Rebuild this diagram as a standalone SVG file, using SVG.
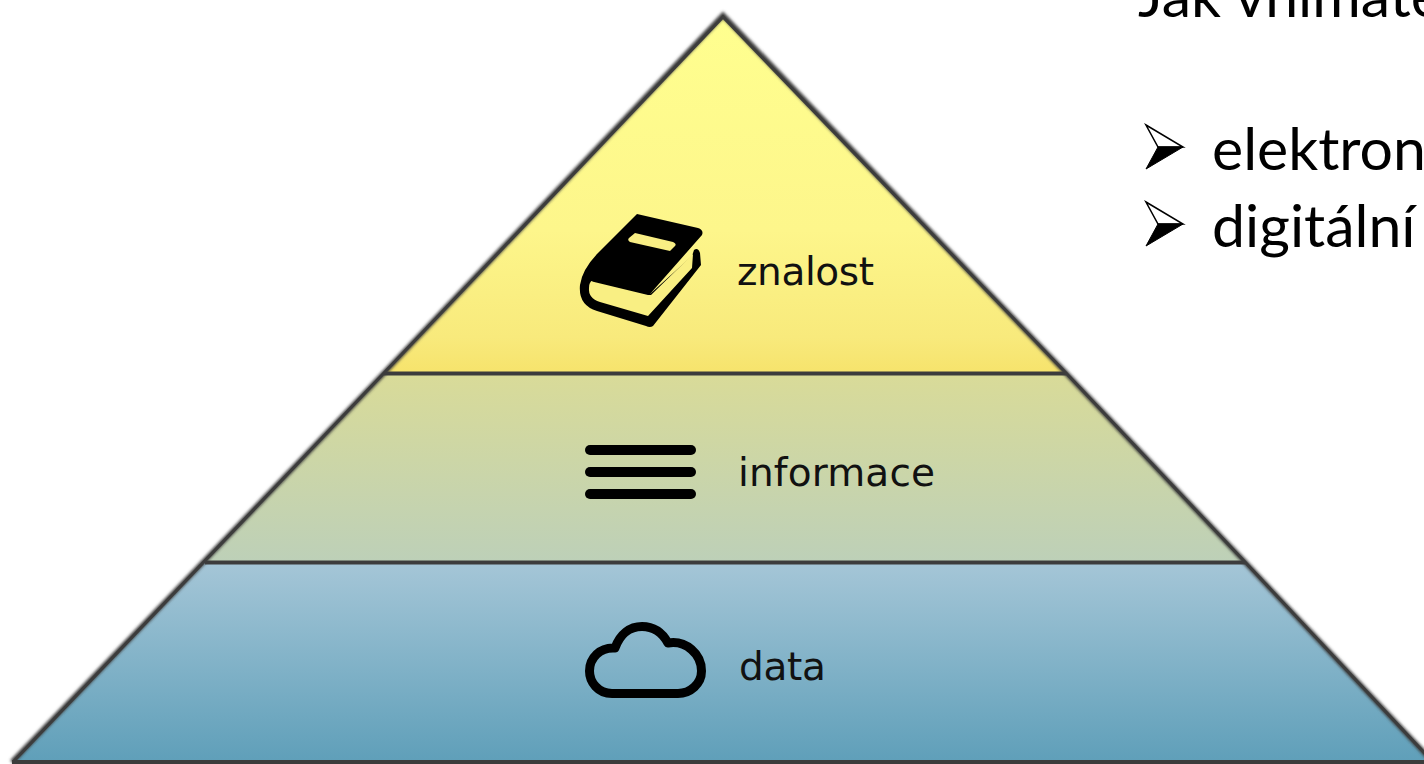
<svg xmlns="http://www.w3.org/2000/svg" width="1424" height="764" viewBox="0 0 1424 764">
<style>
.lb{font-family:"DejaVu Sans",sans-serif;font-size:39px;fill:#111}
.tx{font-family:"Lato","Liberation Sans",sans-serif;font-size:59px;fill:#000}
.edge{fill:none;stroke:#3c3c3c;stroke-linejoin:miter}
.bar{fill:#000}
</style>
<defs>
<linearGradient id="gY" x1="0" y1="0" x2="0" y2="1"><stop offset="0" stop-color="#ffff8f"/><stop offset=".6" stop-color="#fdf68b"/><stop offset=".9" stop-color="#f8ea7c"/><stop offset="1" stop-color="#f6e36c"/></linearGradient>
<linearGradient id="gG" x1="0" y1="0" x2="0" y2="1"><stop offset="0" stop-color="#d9db98"/><stop offset="1" stop-color="#bdd0b8"/></linearGradient>
<linearGradient id="gB" x1="0" y1="0" x2="0" y2="1"><stop offset="0" stop-color="#a5c6d7"/><stop offset="1" stop-color="#5f9fb9"/></linearGradient>
<filter id="soft" x="-5%" y="-5%" width="110%" height="110%"><feGaussianBlur stdDeviation="1.5"/></filter>
<g id="arrow"><path d="M0 0 L37 22 L12 22 Z" fill="#fff" stroke="#000" stroke-width="1.5"/><path d="M0 44 L37 22 L12 22 Z" fill="#000" stroke="#000" stroke-width="1"/></g>
</defs>
<g id="layer-znalost">
<polygon points="723,15 384,373 1066,373" fill="url(#gY)"/>
</g>
<g id="layer-informace">
<polygon points="384,373 1066,373 1245,562 205,562" fill="url(#gG)"/>
</g>
<g id="layer-data">
<polygon points="205,562 1245,562 1433,762 12,762" fill="url(#gB)"/>
</g>
<g id="connectors">
<path class="edge" stroke-width="5" filter="url(#soft)" d="M12 762 L384 373 L723 15 L1066 373 L1245 562 L1433 762"/>
<path class="edge" stroke-width="3" d="M14 761 L384 373 L723 17 L1066 373 L1245 562 L1432 761"/>
<path class="edge" stroke-width="4" d="M384 373.500H1066M205 562.500H1245M12 762H1433"/>
</g>
<g id="icon-book">
<path d="M637 214 L698 228 Q704 230 702 235 L650 294 L692 256 L694 250 Q698 247 700 253 L701 265 L653 326 Q650 328 646 326 L597 311 Q578 305 580 285 Q582 270 597 254 Z" fill="#000"/>
<path d="M590 281 L648 295 L651 295 L693 254 L692 268 L648 316 L600 302 Q588 298 589 288 Q589 281 593 281 Z" fill="#f9ef83"/>
<path d="M635 233 L673 242 Q677 244 675 246 L670 251 L630 242 Q627 240 629 238 Z" fill="#f8ee84"/>
</g>
<g id="icon-lines">
<rect class="bar" x="585" y="445" width="111" height="10" rx="5"/>
<rect class="bar" x="585" y="467" width="111" height="10" rx="5"/>
<rect class="bar" x="585" y="489" width="111" height="10" rx="5"/>
</g>
<g id="icon-cloud">
<path d="M612 693.500 C598 693.500 589.500 682 589.500 671 C589.500 658 600 647 615 648 C620 634 630 626.500 642 626.500 C653 626.500 662 632 668 643 C686 640 701.500 654 701.500 671 C701.500 684 690 693.500 678 693.500 Z" fill="none" stroke="#000" stroke-width="9" stroke-linejoin="round"/>
</g>
<g id="label-znalost"><text class="lb" x="737" y="285" textLength="137">znalost</text></g>
<g id="label-informace"><text class="lb" x="738" y="486" textLength="197">informace</text></g>
<g id="label-data"><text class="lb" x="739" y="680" textLength="87">data</text></g>
<g id="side-text">
<text class="tx" x="1138" y="17">Jak vnímate</text>
<use href="#arrow" x="1146" y="125"/>
<use href="#arrow" x="1146" y="202"/>
<text class="tx" x="1212" y="170">elektron</text>
<text class="tx" x="1212" y="247">digitální</text>
</g>
</svg>
